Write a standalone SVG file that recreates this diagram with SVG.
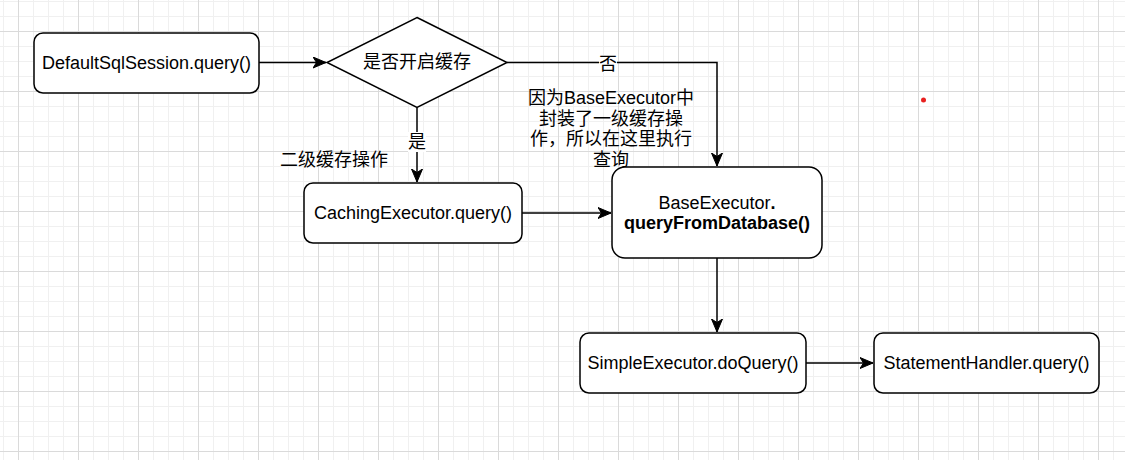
<svg xmlns="http://www.w3.org/2000/svg" width="1125" height="460" viewBox="0 0 1125 460">
<defs>
<style>
.box{fill:#fff;stroke:#000;stroke-width:1.5}
.edge{fill:none;stroke:#000;stroke-width:1.5}
text{font-family:"Liberation Sans","Noto Sans CJK SC",sans-serif;font-size:18px;fill:#000;dominant-baseline:central;text-anchor:middle}
.lbl{fill:#fff;stroke:none}
</style>
<pattern id="minor" patternUnits="userSpaceOnUse" x="3" y="1" width="15" height="15">
<rect x="0" y="0" width="1" height="15" fill="#f0f0f0"/>
<rect x="0" y="0" width="15" height="1" fill="#f0f0f0"/>
</pattern>
<pattern id="major" patternUnits="userSpaceOnUse" x="18" y="31" width="60" height="60">
<rect x="0" y="0" width="1" height="60" fill="#dadada"/>
<rect x="0" y="0" width="60" height="1" fill="#dadada"/>
</pattern>
<marker id="arr" markerUnits="userSpaceOnUse" markerWidth="14" markerHeight="12" refX="13" refY="6" orient="auto" viewBox="0 0 14 12">
<path d="M0,0.5 L13,6 L0,11.5 L3.5,6 Z" fill="#000" stroke="#000" stroke-width="1"/>
</marker>
</defs>
<rect width="1125" height="460" fill="#fff"/>
<rect width="1125" height="460" fill="url(#minor)"/>
<rect width="1125" height="460" fill="url(#major)"/>

<g id="connectors">
<path class="edge" d="M259,62.5 H326" marker-end="url(#arr)"/>
<path class="edge" d="M507,62.5 H717 V166" marker-end="url(#arr)"/>
<path class="edge" d="M417,107.5 V182" marker-end="url(#arr)"/>
<path class="edge" d="M522,213 H611" marker-end="url(#arr)"/>
<path class="edge" d="M717,258 V332" marker-end="url(#arr)"/>
<path class="edge" d="M806,363 H873" marker-end="url(#arr)"/>
<rect class="lbl" x="599" y="55" width="18" height="18"/>
<text x="608" y="64">否</text>
<rect class="lbl" x="408" y="132" width="18" height="20"/>
<text x="417" y="142">是</text>
</g>

<g id="n-default">
<rect class="box" x="34" y="33" width="225" height="60" rx="9"/>
<text x="146.5" y="63">DefaultSqlSession.query()</text>
</g>

<g id="n-decision">
<path class="box" d="M417,17.5 L507,62.5 L417,107.5 L327,62.5 Z"/>
<text x="417" y="62">是否开启缓存</text>
</g>

<g id="n-note-l2">
<text x="334" y="160">二级缓存操作</text>
</g>

<g id="n-note-base">
<text x="611" y="98">因为BaseExecutor中</text>
<text x="611" y="118.5">封装了一级缓存操</text>
<text x="611" y="139">作，所以在这里执行</text>
<text x="611" y="159.5">查询</text>
</g>

<g id="n-caching">
<rect class="box" x="304" y="183" width="218" height="60" rx="9"/>
<text x="413" y="213">CachingExecutor.query()</text>
</g>

<g id="n-base">
<rect class="box" x="612" y="167" width="210" height="91" rx="13"/>
<text x="717" y="203">BaseExecutor<tspan font-weight="bold">.</tspan></text>
<text x="717" y="223" font-weight="bold">queryFromDatabase()</text>
</g>

<g id="n-simple">
<rect class="box" x="580" y="333" width="226" height="60" rx="9"/>
<text x="693" y="363">SimpleExecutor.doQuery()</text>
</g>

<g id="n-handler">
<rect class="box" x="874" y="333" width="225" height="60" rx="9"/>
<text x="986.5" y="363">StatementHandler.query()</text>
</g>

<circle cx="923.5" cy="100" r="2.5" fill="#e8201f"/>
</svg>
